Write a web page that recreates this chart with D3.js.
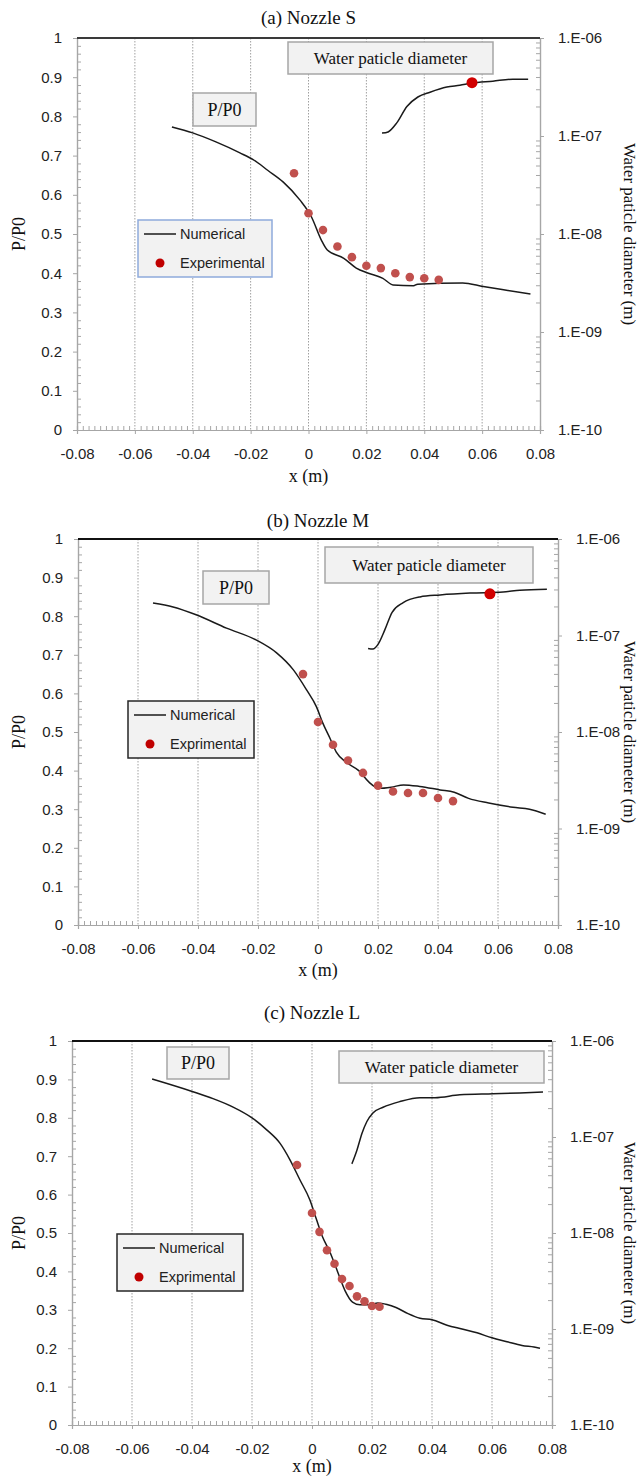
<!DOCTYPE html>
<html>
<head>
<meta charset="utf-8">
<script src="https://cdn.jsdelivr.net/npm/d3@7"></script>
<style>
	body { margin: 0; background: #fff; }
</style>
</head>
<body>
<svg id="fig"></svg>
<script>
// ---- tick values ----
const xTicks = [-0.08, -0.06, -0.04, -0.02, 0, 0.02, 0.04, 0.06, 0.08];
const pTicks = [0, 0.1, 0.2, 0.3, 0.4, 0.5, 0.6, 0.7, 0.8, 0.9, 1];
const dTicks = [1e-10, 1e-9, 1e-8, 1e-7, 1e-6];

// ---- (a) Nozzle S ----
const numX_S = [-0.0472, -0.04, -0.032, -0.0237, -0.019, -0.014, -0.0088, -0.003, 0.001, 0.0044, 0.0065, 0.0122, 0.0165, 0.0207, 0.0257, 0.0292, 0.0363, 0.0377, 0.0533, 0.0604, 0.0689, 0.0767];
const numP_S = [0.773, 0.758, 0.735, 0.707, 0.689, 0.662, 0.633, 0.587, 0.544, 0.485, 0.459, 0.438, 0.413, 0.400, 0.387, 0.370, 0.368, 0.372, 0.375, 0.366, 0.356, 0.347];
const expX_S = [-0.005, 0, 0.005, 0.01, 0.015, 0.02, 0.025, 0.03, 0.035, 0.04, 0.045];
const expP_S = [0.655, 0.553, 0.510, 0.468, 0.441, 0.419, 0.413, 0.400, 0.390, 0.387, 0.383];
const dropX_S = [0.0254, 0.0275, 0.0305, 0.034, 0.0378, 0.042, 0.0478, 0.0523, 0.0564, 0.0637, 0.0706, 0.0759];
const dropD_S = [1.07e-7, 1.1e-7, 1.36e-7, 2.0e-7, 2.5e-7, 2.8e-7, 3.16e-7, 3.3e-7, 3.47e-7, 3.63e-7, 3.8e-7, 3.8e-7];
const dropExpX_S = [0.0565];
const dropExpD_S = [3.5e-7];

// ---- (b) Nozzle M ----
const numX_M = [-0.055, -0.0483, -0.0404, -0.0305, -0.0205, -0.0138, -0.0082, -0.0038, -0.0005, 0.0015, 0.0041, 0.0061, 0.0095, 0.0136, 0.017, 0.0203, 0.0244, 0.0285, 0.0339, 0.0407, 0.0454, 0.0502, 0.0569, 0.065, 0.0705, 0.0759];
const numP_M = [0.834, 0.824, 0.803, 0.769, 0.738, 0.705, 0.661, 0.609, 0.565, 0.525, 0.482, 0.448, 0.421, 0.400, 0.370, 0.354, 0.357, 0.363, 0.359, 0.350, 0.344, 0.328, 0.316, 0.305, 0.300, 0.287];
const expX_M = [-0.005, 0, 0.005, 0.01, 0.015, 0.02, 0.025, 0.03, 0.035, 0.04, 0.045];
const expP_M = [0.650, 0.526, 0.467, 0.426, 0.394, 0.361, 0.346, 0.342, 0.342, 0.329, 0.321];
const dropX_M = [0.0167, 0.0183, 0.020, 0.0223, 0.0247, 0.0284, 0.034, 0.0407, 0.0507, 0.0617, 0.0673, 0.0763];
const dropD_M = [7.35e-8, 7.24e-8, 8.1e-8, 1.15e-7, 1.74e-7, 2.19e-7, 2.51e-7, 2.63e-7, 2.75e-7, 2.82e-7, 2.95e-7, 3.02e-7];
const dropExpX_M = [0.0573];
const dropExpD_M = [2.7e-7];

// ---- (c) Nozzle L ----
const numX_L = [-0.0533, -0.0397, -0.033, -0.0263, -0.02, -0.015, -0.0107, -0.0073, -0.004, -0.0007, 0.0015, 0.0035, 0.006, 0.0085, 0.011, 0.0135, 0.016, 0.019, 0.022, 0.025, 0.028, 0.032, 0.036, 0.04, 0.045, 0.05, 0.055, 0.06, 0.065, 0.07, 0.074, 0.076];
const numP_L = [0.901, 0.868, 0.850, 0.828, 0.800, 0.768, 0.734, 0.690, 0.638, 0.586, 0.535, 0.490, 0.450, 0.400, 0.350, 0.320, 0.313, 0.313, 0.318, 0.314, 0.306, 0.290, 0.278, 0.274, 0.260, 0.250, 0.240, 0.227, 0.217, 0.207, 0.203, 0.200];
const expX_L = [-0.005, 0, 0.0025, 0.005, 0.0075, 0.01, 0.0125, 0.015, 0.0175, 0.02, 0.0225];
const expP_L = [0.677, 0.552, 0.503, 0.455, 0.420, 0.380, 0.362, 0.335, 0.322, 0.310, 0.308];
const dropX_L = [0.0133, 0.015, 0.0167, 0.0183, 0.0203, 0.0237, 0.0293, 0.036, 0.041, 0.0493, 0.0603, 0.0693, 0.077];
const dropD_L = [5.25e-8, 7.33e-8, 1.1e-7, 1.45e-7, 1.78e-7, 2.04e-7, 2.34e-7, 2.57e-7, 2.57e-7, 2.75e-7, 2.82e-7, 2.88e-7, 2.95e-7];
const dropExpX_L = [];
const dropExpD_L = [];

// ---- layout ----
const W = 640, H = 1480;
const SANS  = "'Liberation Sans', Arial, sans-serif";
const SERIF = "'Liberation Serif', 'Times New Roman', serif";
const AXIS_GRAY = "#a6a6a6";

const panels = [
	{ title: "(a) Nozzle S", titleY: 24, left: 77, right: 540, top: 38, bottom: 430, xLabelGap: 47, topColor: "#3a3a3a",
	  num: [numX_S, numP_S], exp: [expX_S, expP_S], drop: [dropX_S, dropD_S], dropExp: [dropExpX_S, dropExpD_S],
	  legend: { x: 138, y: 220, w: 134, h: 57, stroke: "#8eaadb", label: "Experimental" },
	  ppBox: { x: 193, y: 93, w: 63, h: 33 }, wBox: { x: 288, y: 42, w: 205, h: 32 } },
	{ title: "(b) Nozzle M", titleY: 527, left: 78, right: 558, top: 539, bottom: 925, xLabelGap: 46, topColor: "#111",
	  num: [numX_M, numP_M], exp: [expX_M, expP_M], drop: [dropX_M, dropD_M], dropExp: [dropExpX_M, dropExpD_M],
	  legend: { x: 128, y: 701, w: 126, h: 57, stroke: "#262626", label: "Exprimental" },
	  ppBox: { x: 203, y: 571, w: 66, h: 33 }, wBox: { x: 325, y: 547, w: 208, h: 36 } },
	{ title: "(c) Nozzle L", titleY: 1019, left: 72, right: 552, top: 1041, bottom: 1425, xLabelGap: 42, topColor: "#111",
	  num: [numX_L, numP_L], exp: [expX_L, expP_L], drop: [dropX_L, dropD_L], dropExp: [dropExpX_L, dropExpD_L],
	  legend: { x: 117, y: 1234, w: 126, h: 57, stroke: "#262626", label: "Exprimental" },
	  ppBox: { x: 167, y: 1047, w: 62, h: 32 }, wBox: { x: 339, y: 1051, w: 205, h: 32 } },
];

const svg = d3.select("#fig")
	.attr("width", W)
	.attr("height", H)
	.style("background", "#fff");

const styleAxis = (sel, labels) => {
	sel.select(".domain").attr("stroke", AXIS_GRAY).attr("stroke-width", 1.2);
	sel.selectAll(".tick line").attr("stroke", AXIS_GRAY);
	sel.selectAll(".tick text")
		.attr("fill", "#222")
		.style("font-family", SANS)
		.style("font-size", "15px");
	if (!labels) sel.selectAll(".tick text").remove();
};

const noteBox = (g, b, label, size) => {
	g.append("rect")
		.attr("x", b.x).attr("y", b.y)
		.attr("width", b.w).attr("height", b.h)
		.attr("fill", "#f2f2f2")
		.attr("stroke", "#a6a6a6")
		.attr("stroke-width", 1.5);
	g.append("text")
		.attr("x", b.x + b.w / 2)
		.attr("y", b.y + b.h / 2)
		.attr("dy", "0.35em")
		.attr("text-anchor", "middle")
		.style("font-family", SERIF)
		.style("font-size", size + "px")
		.attr("fill", "#111")
		.text(label);
};

function drawPanel(cfg) {
	const g = svg.append("g");

	const x  = d3.scaleLinear().domain([-0.08, 0.08]).range([cfg.left, cfg.right]);
	const y  = d3.scaleLinear().domain([0, 1]).range([cfg.bottom, cfg.top]);
	const yd = d3.scaleLog().domain([1e-10, 1e-6]).range([cfg.bottom, cfg.top]);

	// dotted vertical grid
	g.append("g").selectAll("line")
		.data(xTicks.slice(1, -1))
		.join("line")
		.attr("x1", d => x(d)).attr("x2", d => x(d))
		.attr("y1", cfg.top).attr("y2", cfg.bottom)
		.attr("stroke", "#a0a0a0")
		.attr("stroke-width", 1)
		.attr("stroke-dasharray", "1.5,1.5");

	// minor ticks
	const minorX = d3.range(-80, 81, 2).filter(v => v % 20 !== 0).map(v => v / 1000);
	const minorP = d3.range(0, 101, 2).filter(v => v % 10 !== 0).map(v => v / 100);
	const minorD = [];
	dTicks.slice(0, -1).forEach(d => { for (let k = 2; k <= 9; k++) minorD.push(d * k); });

	g.append("g")
		.attr("transform", "translate(0," + cfg.bottom + ")")
		.call(d3.axisBottom(x).tickValues(minorX).tickSize(-4).tickFormat(""))
		.call(s => styleAxis(s, false));
	g.append("g")
		.attr("transform", "translate(" + cfg.left + ",0)")
		.call(d3.axisLeft(y).tickValues(minorP).tickSize(-4).tickFormat(""))
		.call(s => styleAxis(s, false));
	g.append("g")
		.attr("transform", "translate(" + cfg.right + ",0)")
		.call(d3.axisRight(yd).tickValues(minorD).tickSize(-4).tickFormat(""))
		.call(s => styleAxis(s, false));

	// major axes
	g.append("g")
		.attr("transform", "translate(0," + cfg.bottom + ")")
		.call(d3.axisBottom(x).tickValues(xTicks).tickSize(4).tickPadding(14)
			.tickFormat(d => Math.abs(d) < 1e-9 ? "0" : d.toFixed(2)))
		.call(s => styleAxis(s, true));
	g.append("g")
		.attr("transform", "translate(" + cfg.left + ",0)")
		.call(d3.axisLeft(y).tickValues(pTicks).tickSize(4).tickPadding(11)
			.tickFormat(d => String(+d.toFixed(1))))
		.call(s => styleAxis(s, true));
	g.append("g")
		.attr("transform", "translate(" + cfg.right + ",0)")
		.call(d3.axisRight(yd).tickValues(dTicks).tickSize(4).tickPadding(14)
			.tickFormat(d => "1.E-" + String(Math.round(-Math.log10(d))).padStart(2, "0")))
		.call(s => styleAxis(s, true));

	// top border at P/P0 = 1
	g.append("line")
		.attr("x1", cfg.left).attr("x2", cfg.right)
		.attr("y1", y(1)).attr("y2", y(1))
		.attr("stroke", cfg.topColor)
		.attr("stroke-width", 2);

	// numerical P/P0
	const pLine = d3.line()
		.x(d => x(d[0]))
		.y(d => y(d[1]))
		.curve(d3.curveMonotoneX);
	g.append("path")
		.datum(d3.zip(cfg.num[0], cfg.num[1]))
		.attr("d", pLine)
		.attr("fill", "none")
		.attr("stroke", "#1a1a1a")
		.attr("stroke-width", 1.5);

	// numerical droplet diameter
	const dLine = d3.line()
		.x(d => x(d[0]))
		.y(d => yd(d[1]))
		.curve(d3.curveMonotoneX);
	g.append("path")
		.datum(d3.zip(cfg.drop[0], cfg.drop[1]))
		.attr("d", dLine)
		.attr("fill", "none")
		.attr("stroke", "#1a1a1a")
		.attr("stroke-width", 1.5);

	// experimental P/P0
	g.append("g").selectAll("circle")
		.data(d3.zip(cfg.exp[0], cfg.exp[1]))
		.join("circle")
		.attr("cx", d => x(d[0]))
		.attr("cy", d => y(d[1]))
		.attr("r", 4.3)
		.attr("fill", "#c0504d");

	// experimental droplet diameter
	g.append("g").selectAll("circle")
		.data(d3.zip(cfg.dropExp[0], cfg.dropExp[1]))
		.join("circle")
		.attr("cx", d => x(d[0]))
		.attr("cy", d => yd(d[1]))
		.attr("r", 5.5)
		.attr("fill", "#d10000");

	// annotation boxes
	noteBox(g, cfg.ppBox, "P/P0", 18);
	noteBox(g, cfg.wBox, "Water paticle diameter", 17);

	// legend
	const L = cfg.legend;
	const lg = g.append("g").attr("class", "legend");
	lg.append("rect")
		.attr("x", L.x).attr("y", L.y)
		.attr("width", L.w).attr("height", L.h)
		.attr("fill", "#f2f2f2")
		.attr("stroke", L.stroke)
		.attr("stroke-width", 1.5);
	lg.append("line")
		.attr("x1", L.x + 6).attr("x2", L.x + 38)
		.attr("y1", L.y + 14).attr("y2", L.y + 14)
		.attr("stroke", "#1a1a1a")
		.attr("stroke-width", 1.5);
	lg.append("circle")
		.attr("cx", L.x + 22).attr("cy", L.y + 43)
		.attr("r", 4.5)
		.attr("fill", "#c00000");
	[["Numerical", 14], [L.label, 43]].forEach(([t, dy]) => {
		lg.append("text")
			.attr("x", L.x + 42)
			.attr("y", L.y + dy)
			.attr("dy", "0.35em")
			.attr("fill", "#222")
			.style("font-family", SANS)
			.style("font-size", "14.5px")
			.text(t);
	});

	// titles
	const midX = (cfg.left + cfg.right) / 2;
	const midY = (cfg.top + cfg.bottom) / 2;
	g.append("text")
		.attr("x", midX).attr("y", cfg.titleY)
		.attr("text-anchor", "middle")
		.style("font-family", SERIF)
		.style("font-size", "19px")
		.attr("fill", "#111")
		.text(cfg.title);
	g.append("text")
		.attr("x", midX).attr("y", cfg.bottom + cfg.xLabelGap)
		.attr("dy", "0.3em")
		.attr("text-anchor", "middle")
		.style("font-family", SERIF)
		.style("font-size", "18px")
		.attr("fill", "#111")
		.text("x (m)");
	g.append("text")
		.attr("transform", "translate(19," + midY + ") rotate(-90)")
		.attr("dy", "0.35em")
		.attr("text-anchor", "middle")
		.style("font-family", SERIF)
		.style("font-size", "18px")
		.attr("fill", "#111")
		.text("P/P0");
	g.append("text")
		.attr("transform", "translate(630," + midY + ") rotate(90)")
		.attr("dy", "0.35em")
		.attr("text-anchor", "middle")
		.style("font-family", SERIF)
		.style("font-size", "17px")
		.attr("fill", "#111")
		.text("Water paticle diameter (m)");
}

panels.forEach(drawPanel);
</script>
</body>
</html>
